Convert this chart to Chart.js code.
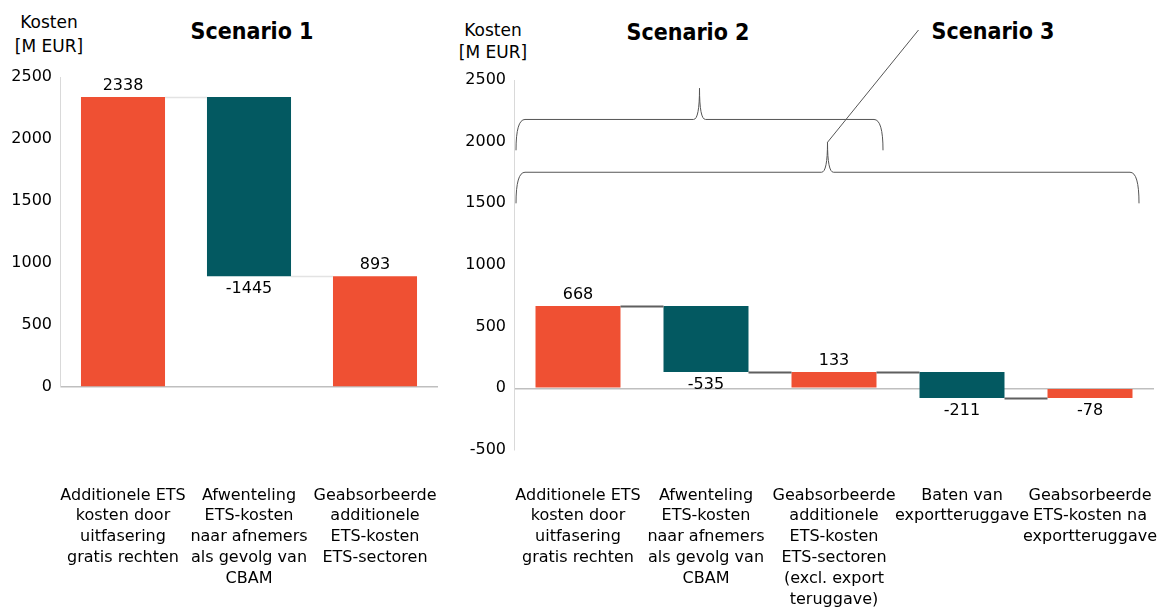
<!DOCTYPE html>
<html>
<head>
<meta charset="utf-8">
<script src="https://cdn.jsdelivr.net/npm/chart.js@4.4.1/dist/chart.umd.min.js"></script>
<style>
    body { margin: 0; background: #fff; width: 1161px; height: 610px; position: relative; overflow: hidden;
           font-family: "DejaVu Sans", sans-serif; color: #000; }
    .unit { position: absolute; width: 100px; font-size: 17px; text-align: center; }
    .title { position: absolute; font-family: "DejaVu Sans Condensed", "DejaVu Sans", sans-serif;
             font-size: 23px; font-weight: bold; transform: translateX(-50%); white-space: nowrap; }
    #wrap1 { position: absolute; left: 0; top: 0; width: 450px; height: 610px; }
    #wrap2 { position: absolute; left: 450px; top: 0; width: 711px; height: 610px; }
</style>
</head>
<body>
<div class="unit" style="left:-1px; top:10px; line-height:24px;">Kosten<br>[M EUR]</div>
<div class="unit" style="left:443px; top:19px; line-height:22px;">Kosten<br>[M EUR]</div>
<div class="title" style="left:252px; top:18px;">Scenario 1</div>
<div class="title" style="left:688px; top:19px;">Scenario 2</div>
<div class="title" style="left:993px; top:18px;">Scenario 3</div>
<div id="wrap1"><canvas id="chart1"></canvas></div>
<div id="wrap2"><canvas id="chart2"></canvas></div>
<script>
// Scenario 1
const categories1 = [
    ['Additionele ETS', 'kosten door', 'uitfasering', 'gratis rechten'],
    ['Afwenteling', 'ETS-kosten', 'naar afnemers', 'als gevolg van', 'CBAM'],
    ['Geabsorbeerde', 'additionele', 'ETS-kosten', 'ETS-sectoren']
];
const values1 = [2338, -1445, 893];
const kinds1 = ['delta', 'delta', 'total'];
const yTicks1 = [0, 500, 1000, 1500, 2000, 2500];

// Scenario 2 / 3
const categories2 = [
    ['Additionele ETS', 'kosten door', 'uitfasering', 'gratis rechten'],
    ['Afwenteling', 'ETS-kosten', 'naar afnemers', 'als gevolg van', 'CBAM'],
    ['Geabsorbeerde', 'additionele', 'ETS-kosten', 'ETS-sectoren', '(excl. export', 'teruggave)'],
    ['Baten van', 'exportteruggave'],
    ['Geabsorbeerde', 'ETS-kosten na', 'exportteruggave']
];
const values2 = [668, -535, 133, -211, -78];
const kinds2 = ['delta', 'delta', 'total', 'delta', 'total'];
const yTicks2 = [-500, 0, 500, 1000, 1500, 2000, 2500];

const ORANGE = '#EF5033';
const TEAL = '#035961';
const FONT = '"DejaVu Sans", sans-serif';

Chart.defaults.font.family = FONT;
Chart.defaults.color = '#000';

// running totals -> floating bars
function buildBars(values, kinds) {
    let run = 0;
    const bars = [], levels = [], colors = [];
    values.forEach((v, i) => {
        if (kinds[i] === 'total') {
            bars.push([0, v]);
            run = v;
            colors.push(ORANGE);
        } else {
            bars.push([run, run + v]);
            run += v;
            colors.push(v < 0 ? TEAL : ORANGE);
        }
        levels.push(run);
    });
    return { bars, levels, colors };
}

// connectors + value labels
function waterfallPlugin(values, levels, lineColor, lineWidth) {
    return {
        id: 'waterfall',
        afterDatasetsDraw(chart) {
            const ctx = chart.ctx;
            const yScale = chart.scales.y;
            const bars = chart.getDatasetMeta(0).data;
            ctx.save();
            ctx.strokeStyle = lineColor;
            ctx.lineWidth = lineWidth;
            for (let i = 0; i < bars.length - 1; i++) {
                const y = Math.round(yScale.getPixelForValue(levels[i])) + 0.5;
                ctx.beginPath();
                ctx.moveTo(bars[i].x + bars[i].width / 2, y);
                ctx.lineTo(bars[i + 1].x - bars[i + 1].width / 2, y);
                ctx.stroke();
            }
            ctx.fillStyle = '#000';
            ctx.font = '16px ' + FONT;
            ctx.textAlign = 'center';
            ctx.textBaseline = 'middle';
            bars.forEach((b, i) => {
                const top = Math.min(b.y, b.base);
                const bottom = Math.max(b.y, b.base);
                if (values[i] >= 0) ctx.fillText(values[i], b.x, top - 11);
                else ctx.fillText(values[i], b.x, bottom + 13);
            });
            ctx.restore();
        }
    };
}

// curly braces over scenario 2 and 3
const bracePlugin = {
    id: 'braces',
    afterDraw(chart) {
        const ctx = chart.ctx;
        const xs = chart.scales.x, ys = chart.scales.y;
        const braces = [
            { from: 0, to: 2, yEnd: 1930, yLine: 2180, yPeak: 2433 },
            { from: 0, to: 4, yEnd: 1500, yLine: 1752, yPeak: 1995, callout: true }
        ];
        ctx.save();
        ctx.strokeStyle = '#555';
        ctx.lineWidth = 1;
        braces.forEach(b => {
            const x0 = xs.getPixelForValue(b.from) - 62;
            const x1 = xs.getPixelForValue(b.to) + 49;
            const xm = (x0 + x1) / 2;
            const yE = ys.getPixelForValue(b.yEnd);
            const yL = ys.getPixelForValue(b.yLine);
            const yP = ys.getPixelForValue(b.yPeak);
            ctx.beginPath();
            ctx.moveTo(x0, yE);
            ctx.quadraticCurveTo(x0, yL, x0 + 9, yL);
            ctx.lineTo(xm - 6, yL);
            ctx.quadraticCurveTo(xm, yL, xm, yP);
            ctx.quadraticCurveTo(xm, yL, xm + 6, yL);
            ctx.lineTo(x1 - 9, yL);
            ctx.quadraticCurveTo(x1, yL, x1, yE);
            ctx.stroke();
            if (b.callout) {
                ctx.beginPath();
                ctx.moveTo(xm, yP);
                ctx.lineTo(xm + 91, 30);
                ctx.stroke();
            }
        });
        ctx.restore();
    }
};

function makeChart(id, categories, values, kinds, yTicks, opt) {
    const wf = buildBars(values, kinds);
    return new Chart(document.getElementById(id), {
        type: 'bar',
        data: {
            labels: categories,
            datasets: [{
                data: wf.bars,
                backgroundColor: wf.colors,
                borderWidth: 0,
                barPercentage: 1,
                categoryPercentage: opt.catPct
            }]
        },
        options: {
            responsive: true,
            maintainAspectRatio: false,
            animation: false,
            layout: { padding: { top: opt.top, right: opt.right, left: 0, bottom: 0 } },
            plugins: { legend: { display: false }, tooltip: { enabled: false } },
            scales: {
                x: {
                    // tickLength pushes the labels down without adding side padding
                    grid: { display: false, drawTicks: true, tickLength: opt.labelPad },
                    border: { display: false },
                    ticks: { autoSkip: false, maxRotation: 0, padding: 0,
                             font: { size: 16, lineHeight: 1.3 } },
                    afterFit: s => { s.height = opt.xHeight; }
                },
                y: {
                    min: yTicks[0],
                    max: yTicks[yTicks.length - 1],
                    afterBuildTicks: s => { s.ticks = yTicks.map(v => ({ value: v })); },
                    grid: { drawTicks: false, color: c => c.tick.value === 0 ? '#bfbfbf' : 'transparent', lineWidth: 1.5 },
                    border: { color: '#d9d9d9' },
                    ticks: { padding: 8, font: { size: 16 }, callback: v => String(v) },
                    afterFit: s => { s.width = opt.yWidth; }
                }
            }
        },
        plugins: [waterfallPlugin(values, wf.levels, opt.lineColor, opt.lineWidth)].concat(opt.extra || [])
    });
}

makeChart('chart1', categories1, values1, kinds1, yTicks1, {
    catPct: 0.667, top: 77, right: 12, yWidth: 60, xHeight: 223, labelPad: 98,
    lineColor: '#e3e3e3', lineWidth: 1.5
});

makeChart('chart2', categories2, values2, kinds2, yTicks2, {
    catPct: 0.664, top: 80, right: 7, yWidth: 64, xHeight: 160, labelPad: 35,
    lineColor: '#5f5f5f', lineWidth: 2, extra: [bracePlugin]
});
</script>
</body>
</html>
